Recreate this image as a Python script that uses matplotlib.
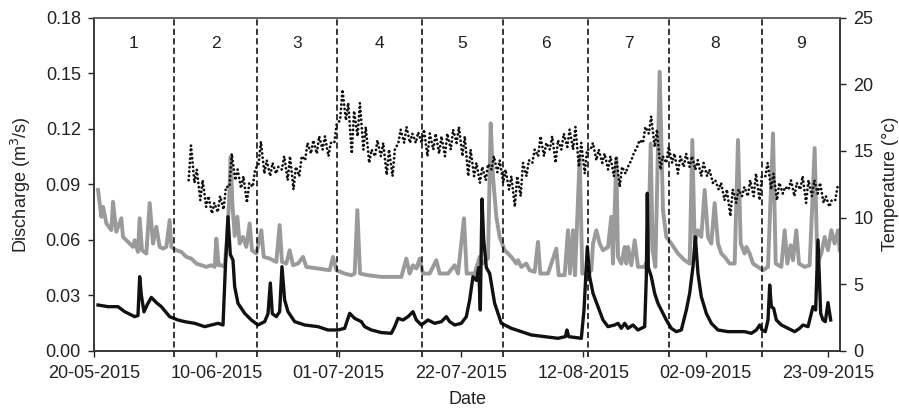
import matplotlib
matplotlib.use('Agg')
import matplotlib.pyplot as plt
import matplotlib.dates as mdates
import matplotlib.ticker as mticker
import datetime as dt

plt.rcParams['font.family'] = ['Liberation Sans', 'DejaVu Sans']

# ---------------- data (days after 20-05-2015) ----------------
START = dt.datetime(2015, 5, 20)
END_DAY = 128.07

black_day = [0.69, 2.40, 4.12, 5.26, 6.98, 7.55, 7.84, 8.13, 8.58, 9.16, 9.84, 10.70, 11.56, 12.99, 14.42, 15.57, 17.28, 19.00,
             21.29, 22.15, 22.55, 23.00, 23.40, 23.86, 24.15, 24.72, 25.87, 27.01, 28.15, 29.30, 29.87, 30.27, 30.61, 31.30, 31.87, 32.27, 32.73, 33.30, 34.45, 36.17, 38.45, 40.17, 41.89, 43.03, 43.89,
             44.75, 45.89, 46.47, 47.61, 49.33, 51.04, 51.62, 52.19, 53.05, 53.91, 54.76, 55.34, 56.19, 57.34, 58.48, 59.63, 60.49, 61.06, 61.92, 63.06, 63.92, 64.49, 65.06, 65.64, 66.04, 66.32,
             66.61, 66.90, 67.35, 67.93, 68.78, 69.93, 71.65, 73.36, 75.08, 77.37, 79.66, 80.92, 81.20, 81.49, 83.66, 84.12, 84.69, 85.09, 85.67, 86.52, 87.38, 88.24,
             89.39, 89.96, 90.53, 91.10, 91.67, 92.53, 93.39, 94.54, 94.82, 94.99, 95.16, 95.68, 96.25, 96.82, 97.40, 98.25, 99.11, 99.97, 100.83, 101.69, 102.26, 102.83, 103.23, 103.69, 104.26, 105.12, 105.98, 107.12, 108.84, 110.56,
             111.70, 112.85, 113.71, 114.28, 114.68, 115.25, 115.71, 116.00, 116.28, 116.68, 117.14, 118.00, 119.14, 120.29, 121.14, 121.72, 122.58, 123.43, 123.89, 124.29, 124.75, 125.15, 125.55, 126.01, 126.47]
black_q = [0.0247, 0.0238, 0.0238, 0.0211, 0.0184, 0.0190, 0.0400, 0.0300, 0.0210, 0.0250, 0.0288, 0.0260, 0.0238, 0.0184, 0.0166, 0.0157, 0.0148, 0.0130,
           0.0148, 0.0139, 0.0450, 0.0724, 0.0520, 0.0490, 0.0346, 0.0256, 0.0202, 0.0166, 0.0139, 0.0157, 0.0200, 0.0366, 0.0200, 0.0184, 0.0211, 0.0454, 0.0274, 0.0211, 0.0157, 0.0139, 0.0130, 0.0112, 0.0112, 0.0121, 0.0202,
           0.0175, 0.0157, 0.0130, 0.0112, 0.0098, 0.0094, 0.0130, 0.0175, 0.0166, 0.0184, 0.0211, 0.0166, 0.0139, 0.0166, 0.0148, 0.0157, 0.0184, 0.0157, 0.0139, 0.0148, 0.0184, 0.0274, 0.0400, 0.0380, 0.0450, 0.0220,
           0.0820, 0.0600, 0.0450, 0.0417, 0.0256, 0.0148, 0.0121, 0.0103, 0.0085, 0.0076, 0.0067, 0.0076, 0.0112, 0.0076, 0.0067, 0.0220, 0.0562, 0.0400, 0.0310, 0.0238, 0.0166, 0.0130,
           0.0139, 0.0148, 0.0121, 0.0148, 0.0121, 0.0139, 0.0112, 0.0130, 0.0400, 0.0851, 0.0450, 0.0400, 0.0310, 0.0256, 0.0220, 0.0166, 0.0121, 0.0103, 0.0112, 0.0220, 0.0310, 0.0454, 0.0616, 0.0417, 0.0292, 0.0202, 0.0148, 0.0112, 0.0103, 0.0103,
           0.0103, 0.0094, 0.0112, 0.0139, 0.0112, 0.0103, 0.0166, 0.0355, 0.0238, 0.0229, 0.0166, 0.0139, 0.0121, 0.0103, 0.0121, 0.0139, 0.0130, 0.0238, 0.0220, 0.0598, 0.0202, 0.0166, 0.0157, 0.0260, 0.0166]

gray_day = [0.69, 1.26, 1.55, 2.12, 2.98, 3.26, 3.83, 4.69, 4.98, 5.55, 6.12, 6.70, 6.98, 7.55, 7.84, 8.24, 8.98, 9.56, 10.13, 10.70, 11.27, 11.85, 12.42, 12.99, 13.28, 14.13, 14.99, 15.85, 16.71, 17.57, 18.43, 19.28, 20.14, 20.72, 21.00, 21.40,
            21.86, 22.43, 22.83, 23.18, 23.46, 23.75, 24.15, 24.61, 25.01, 25.58, 26.15, 26.72, 27.12, 27.87, 28.73, 29.13, 30.16, 30.73, 31.30, 31.87, 32.27, 33.02, 33.59, 34.16, 35.02, 35.88, 36.45, 38.45, 40.46, 41.03, 41.60, 43.03, 44.18,
            44.75, 45.21, 45.67, 47.04, 49.33, 51.04, 52.76, 53.62, 54.19, 54.76, 55.34, 55.91, 56.48, 57.63, 58.77, 59.34, 60.77, 61.92, 62.49, 63.52, 63.98, 65.35, 66.21, 66.78,
            67.64, 68.10, 68.50, 69.07, 69.64, 70.50, 71.65, 72.50, 72.79, 73.36, 74.22, 74.79, 75.65, 76.22, 76.62, 77.94, 79.37, 79.77, 80.80, 81.37, 81.72, 82.23, 82.58, 83.38, 83.83, 84.81, 85.38, 85.67, 86.24, 86.81, 87.38, 88.24, 88.81,
            89.10, 89.67, 89.96, 90.53, 91.10, 91.39, 91.67, 92.25, 92.82, 93.39, 94.54, 95.11, 95.57, 95.91, 96.37, 97.11, 97.68, 98.25, 99.11, 100.26, 101.40, 102.26, 102.72, 103.12, 103.69, 104.26, 104.84, 105.41, 105.98, 106.55, 107.12, 107.70, 108.27, 109.13, 109.99, 110.56, 111.02,
            111.70, 111.99, 112.56, 113.13, 113.99, 114.85, 115.71, 116.57, 117.03, 118.00, 118.57, 119.03, 119.60, 120.00, 120.57, 121.03, 122.00, 122.86, 123.72, 124.18, 124.86, 125.44, 126.01, 126.58, 127.15, 127.73, 128.01]
gray_q = [0.0869, 0.0724, 0.0778, 0.0688, 0.0652, 0.0805, 0.0643, 0.0716, 0.0615, 0.0597, 0.0579, 0.0561, 0.0597, 0.0534, 0.0716, 0.0543, 0.0525, 0.0798, 0.0579, 0.0670, 0.0561, 0.0552, 0.0561, 0.0706, 0.0561, 0.0543, 0.0534, 0.0507, 0.0498, 0.0471, 0.0462, 0.0453, 0.0462, 0.0453, 0.0606, 0.0462,
          0.0462, 0.0453, 0.0600, 0.0800, 0.1048, 0.0800, 0.0620, 0.0724, 0.0579, 0.0615, 0.0561, 0.0688, 0.0543, 0.0525, 0.0651, 0.0507, 0.0498, 0.0489, 0.0480, 0.0679, 0.0480, 0.0471, 0.0543, 0.0462, 0.0471, 0.0507, 0.0453, 0.0444, 0.0435, 0.0507, 0.0435, 0.0417, 0.0408,
          0.0417, 0.0760, 0.0417, 0.0408, 0.0399, 0.0399, 0.0399, 0.0498, 0.0417, 0.0462, 0.0444, 0.0498, 0.0417, 0.0417, 0.0489, 0.0417, 0.0417, 0.0462, 0.0417, 0.0716, 0.0417, 0.0417, 0.0507, 0.0471,
          0.0500, 0.1229, 0.0940, 0.0724, 0.0615, 0.0543, 0.0507, 0.0471, 0.0489, 0.0453, 0.0471, 0.0435, 0.0426, 0.0588, 0.0417, 0.0417, 0.0552, 0.0408, 0.0408, 0.0651, 0.0417, 0.0651, 0.0408, 0.1050, 0.0417, 0.0417, 0.0435, 0.0579, 0.0651, 0.0579, 0.0543, 0.0560, 0.0724,
          0.0471, 0.1039, 0.0507, 0.0471, 0.0561, 0.0471, 0.0561, 0.0462, 0.0597, 0.0453, 0.0453, 0.0500, 0.1120, 0.0543, 0.0453, 0.1508, 0.0760, 0.0615, 0.0579, 0.0525, 0.0489, 0.0471, 0.1139, 0.0579, 0.0651, 0.0615, 0.0869, 0.0615, 0.0579, 0.0798, 0.0579, 0.0525, 0.0507, 0.0471, 0.0471, 0.1139, 0.0579,
          0.0525, 0.0561, 0.0525, 0.0471, 0.0453, 0.0435, 0.0453, 0.1175, 0.0471, 0.0453, 0.0651, 0.0471, 0.0570, 0.0489, 0.0651, 0.0471, 0.0453, 0.0462, 0.1095, 0.0471, 0.0525, 0.0615, 0.0543, 0.0651, 0.0579, 0.0651, 0.0543]

# daily temperature extremes (°C), first day = day 16
temp_first_day = 16
temp_max = [15.4, 13.6, 12.8, 11.6, 11.1, 11.6, 12.3, 14.8, 13.6, 13.1,
            12.6, 13.6, 15.7, 14.3, 14.1, 13.8, 14.6, 14.6, 13.8, 14.6,
            15.6, 15.8, 16.1, 16.1, 15.6, 17.0, 19.6, 18.6, 18.0, 18.6,
            16.8, 15.1, 15.8, 15.6, 15.1, 15.1, 16.6, 16.8, 16.3, 16.4,
            16.6, 16.3, 16.3, 16.1, 16.3, 16.6, 16.8, 16.1, 15.1, 14.1,
            13.8, 14.0, 14.6, 14.3, 13.6, 13.1, 13.1, 14.1, 14.3, 15.1,
            16.1, 15.6, 16.1, 15.8, 16.3, 16.6, 16.8, 15.6, 15.1, 15.6,
            15.1, 14.8, 14.6, 14.6, 13.8, 13.8, 14.8, 15.8, 16.8, 17.6,
            16.6, 14.6, 15.3, 14.8, 14.6, 14.8, 14.6, 14.3, 14.1, 13.6,
            12.8, 12.6, 12.1, 12.1, 12.1, 12.3, 12.8, 13.3, 13.1, 14.1,
            13.3, 12.6, 12.3, 12.8, 12.6, 13.1, 12.8, 12.8, 12.6, 11.6,
            11.3, 12.3]
temp_min = [12.8, 12.6, 11.3, 10.8, 10.3, 10.4, 10.6, 12.3, 12.8, 12.2,
            11.1, 12.3, 14.0, 13.3, 13.1, 13.3, 13.6, 12.8, 12.1, 13.1,
            14.3, 14.8, 14.8, 15.1, 14.6, 15.6, 17.3, 17.3, 14.8, 16.1,
            15.1, 14.1, 14.6, 14.6, 13.2, 13.1, 15.6, 15.6, 15.6, 15.6,
            15.6, 14.6, 15.1, 14.8, 14.6, 15.1, 15.6, 14.6, 13.1, 13.1,
            12.6, 12.8, 13.6, 13.4, 12.6, 12.1, 10.8, 11.6, 13.1, 14.1,
            14.6, 14.6, 15.1, 14.1, 15.1, 15.3, 15.1, 13.8, 13.3, 15.1,
            14.3, 14.1, 13.6, 13.1, 12.3, 13.3, 14.3, 15.3, 15.6, 16.3,
            15.3, 13.6, 14.1, 14.1, 13.3, 13.8, 13.8, 13.6, 13.1, 13.1,
            12.6, 12.1, 11.3, 10.1, 11.1, 11.6, 11.6, 11.6, 11.3, 13.1,
            12.1, 11.3, 11.8, 12.1, 11.6, 12.1, 11.1, 11.6, 11.8, 11.1,
            10.8, 11.3]

period_bounds = [13.73, 28.04, 41.72, 56.31, 70.21, 84.81, 98.71, 114.68]
period_names = ['1', '2', '3', '4', '5', '6', '7', '8', '9']
tick_days = [0, 21, 42, 63, 84, 105, 126]


def to_dates(days):
    return [START + dt.timedelta(days=float(d)) for d in days]


# zig-zag of daily minima (morning) and maxima (afternoon)
temp_t, temp_v = [], []
for i, (lo, hi) in enumerate(zip(temp_min, temp_max)):
    d = temp_first_day + i
    temp_t += [d + 0.25, d + 0.65]
    temp_v += [lo, hi]

# ---------------- figure ----------------
W, H = 899, 408
fig = plt.figure(figsize=(W / 100, H / 100), dpi=100)
L, R, B, T = 94, 840, 350.7, 17.7
ax = fig.add_axes([L / W, 1 - B / H, (R - L) / W, (B - T) / H])
ax2 = ax.twinx()

ax.plot(to_dates(gray_day), gray_q, color='#9a9a9a', lw=2.8, solid_joinstyle='round', zorder=2)
ax.plot(to_dates(black_day), black_q, color='#111111', lw=2.4, solid_joinstyle='round', zorder=3)
ax2.plot(to_dates(temp_t), temp_v, color='#111111', lw=2.0, linestyle=(0, (0.05, 1.5)),
         dash_capstyle='round', zorder=4)

for b in period_bounds:
    ax.axvline(START + dt.timedelta(days=b), ymin=-0.018, ymax=1, color='black', lw=1.1,
               linestyle=(0, (4, 2.2)), clip_on=False, zorder=5)

edges = [0] + period_bounds + [END_DAY]
for name, a, b in zip(period_names, edges[:-1], edges[1:]):
    ax.text(START + dt.timedelta(days=(a + b) / 2), 0.924, name, transform=ax.get_xaxis_transform(),
            ha='center', va='center', fontsize=12.5, color='#222222')

ax.set_xlim(START, START + dt.timedelta(days=END_DAY))
ax.set_ylim(0, 0.18)
ax2.set_ylim(0, 25)

ax.xaxis.set_major_locator(mticker.FixedLocator(mdates.date2num(to_dates(tick_days))))
ax.xaxis.set_major_formatter(mdates.DateFormatter('%d-%m-%Y'))
ax.yaxis.set_major_locator(mticker.MultipleLocator(0.03))
ax.yaxis.set_major_formatter(mticker.FormatStrFormatter('%.2f'))
ax2.yaxis.set_major_locator(mticker.MultipleLocator(5))

for a in (ax, ax2):
    a.tick_params(direction='out', length=4.5, width=1.0, labelsize=13, colors='#222222', pad=5)
    for s in a.spines.values():
        s.set_color('#333333')
        s.set_linewidth(1.1)
ax.tick_params(axis='x', pad=6)
ax2.spines['top'].set_color('#666666')

ax.set_xlabel('Date', fontsize=13, color='#222222', labelpad=6)
ax.set_ylabel('Discharge (m$^3$/s)', fontsize=13, color='#222222', labelpad=9)
ax2.set_ylabel('Temperature (°c)', fontsize=13, color='#222222', labelpad=6)

fig.savefig('out.png', dpi=100)
